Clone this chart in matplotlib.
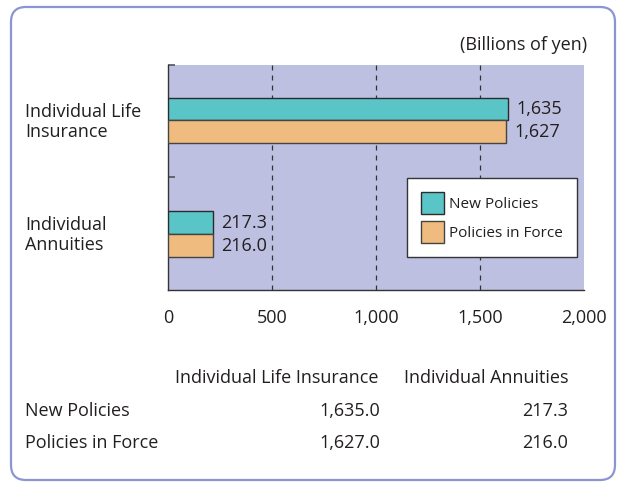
import matplotlib
matplotlib.use("Agg")
import matplotlib.pyplot as plt
from matplotlib.patches import FancyBboxPatch, Patch

categories = ["Individual Life\nInsurance", "Individual\nAnnuities"]
table_cols = ["Individual Life Insurance", "Individual Annuities"]
series_names = ["New Policies", "Policies in Force"]
new_policies = [1635.0, 217.3]
policies_in_force = [1627.0, 216.0]
bar_labels_new = ["1,635", "217.3"]
bar_labels_force = ["1,627", "216.0"]
xticks = [0, 500, 1000, 1500, 2000]
xtick_labels = ["0", "500", "1,000", "1,500", "2,000"]

teal = "#5ac5c7"
orange = "#efbb7e"
panel = "#bdc0e1"
frame = "#8c95d2"
text_c = "#231f20"
FS = 13

plt.rcParams["font.family"] = ["Open Sans", "DejaVu Sans"]

W, H = 626, 487
fig = plt.figure(figsize=(W / 100, H / 100), dpi=100)
fig.patch.set_facecolor("white")

# pixel-space backdrop holding the rounded outer frame
bg = fig.add_axes([0, 0, 1, 1], zorder=-5)
bg.set_xlim(0, W)
bg.set_ylim(H, 0)
bg.axis("off")
bg.add_patch(FancyBboxPatch((11, 7), 604, 473,
                            boxstyle="round,pad=0,rounding_size=15",
                            facecolor="white", edgecolor=frame, linewidth=1.6))

left, right, top, bottom = 168, 584, 65, 290
ax = fig.add_axes([left / W, 1 - bottom / H, (right - left) / W, (bottom - top) / H])
ax.set_facecolor(panel)

ypos = [0, 1]
h = 0.2
ax.barh([y - h / 2 for y in ypos], new_policies, height=h, color=teal,
        edgecolor="#2b2b2b", linewidth=1.0, zorder=3)
ax.barh([y + h / 2 for y in ypos], policies_in_force, height=h, color=orange,
        edgecolor="#444444", linewidth=1.0, zorder=3)

for y, v, s in zip(ypos, new_policies, bar_labels_new):
    ax.annotate(s, (v, y - h / 2), xytext=(6, 0), textcoords="offset points",
                va="center", ha="left", fontsize=FS, color=text_c, zorder=4)
for y, v, s in zip(ypos, policies_in_force, bar_labels_force):
    ax.annotate(s, (v, y + h / 2), xytext=(6, 0), textcoords="offset points",
                va="center", ha="left", fontsize=FS, color=text_c, zorder=4)

ax.set_xlim(0, 2000)
ax.set_ylim(1.49, -0.487)
ax.set_xticks(xticks)
ax.set_xticklabels(xtick_labels, fontsize=FS, color=text_c)
ax.tick_params(axis="x", length=0, pad=13.5)
ax.set_yticks([-0.487, 0.5])
ax.set_yticklabels([])
ax.tick_params(axis="y", direction="in", length=5, width=1.2, color="#555555")
for xv in xticks[1:-1]:
    ax.axvline(xv, color="#333333", linestyle=(0, (4, 4)), linewidth=0.9, zorder=2)

for side in ["top", "right"]:
    ax.spines[side].set_visible(False)
for side in ["left", "bottom"]:
    ax.spines[side].set_color("#333333")
    ax.spines[side].set_linewidth(1.0)

handles = [Patch(facecolor=teal, edgecolor="#2b2b2b", label=series_names[0]),
           Patch(facecolor=orange, edgecolor="#444444", label=series_names[1])]
leg = ax.legend(handles=handles, loc="upper left",
                bbox_to_anchor=((407 - left) / (right - left), 1 - (178 - top) / (bottom - top)),
                borderaxespad=0, frameon=True, fancybox=False, framealpha=1,
                fontsize=11, borderpad=0.9, handlelength=1.5, handleheight=1.85,
                handletextpad=0.35, labelspacing=0.45)
leg.get_frame().set_edgecolor("#333333")
leg.get_frame().set_facecolor("white")
leg.get_frame().set_linewidth(1.0)
for t in leg.get_texts():
    t.set_color(text_c)

def fx(px):
    return px / W

def fy(py):
    return 1 - py / H

fig.text(fx(587), fy(45), "(Billions of yen)", ha="right", va="center", fontsize=FS, color=text_c)
fig.text(fx(25), fy(122), categories[0], ha="left", va="center", fontsize=FS, color=text_c, linespacing=1.1)
fig.text(fx(25), fy(235), categories[1], ha="left", va="center", fontsize=FS, color=text_c, linespacing=1.1)

# summary table beneath the chart
fig.text(fx(277), fy(378), table_cols[0], ha="center", va="center", fontsize=FS, color=text_c)
fig.text(fx(486), fy(378), table_cols[1], ha="center", va="center", fontsize=FS, color=text_c)
rows = [new_policies, policies_in_force]
for i, (name, vals) in enumerate(zip(series_names, rows)):
    yy = fy(411 + 32.5 * i)
    fig.text(fx(25), yy, name, ha="left", va="center", fontsize=FS, color=text_c)
    fig.text(fx(380), yy, f"{vals[0]:,.1f}", ha="right", va="center", fontsize=FS, color=text_c)
    fig.text(fx(568), yy, f"{vals[1]:,.1f}", ha="right", va="center", fontsize=FS, color=text_c)

fig.savefig("out.png", dpi=100)
